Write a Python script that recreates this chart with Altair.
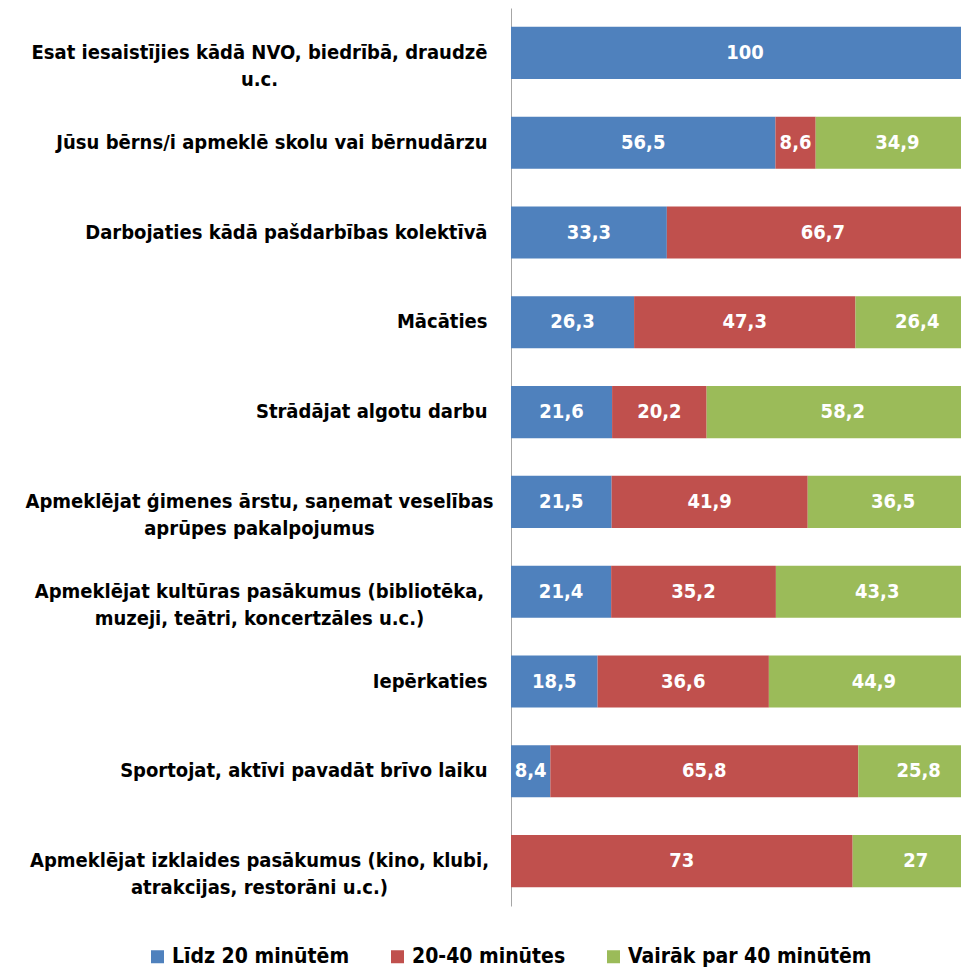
import altair as alt
import pandas as pd

categories = [
    "Esat iesaistījies kādā NVO, biedrībā, draudzē\nu.c.",
    "Jūsu bērns/i apmeklē skolu vai bērnudārzu",
    "Darbojaties kādā pašdarbības kolektīvā",
    "Mācāties",
    "Strādājat algotu darbu",
    "Apmeklējat ģimenes ārstu, saņemat veselības\naprūpes pakalpojumus",
    "Apmeklējat kultūras pasākumus (bibliotēka,\nmuzeji, teātri, koncertzāles u.c.)",
    "Iepērkaties",
    "Sportojat, aktīvi pavadāt brīvo laiku",
    "Apmeklējat izklaides pasākumus (kino, klubi,\natrakcijas, restorāni u.c.)",
]

series_names = ["Līdz 20  minūtēm", "20-40  minūtes", "Vairāk par 40 minūtēm"]
series_colors = ["#4F81BD", "#C0504D", "#9BBB59"]

lidz_20 = [100, 56.5, 33.3, 26.3, 21.6, 21.5, 21.4, 18.5, 8.4, 0]
no_20_40 = [0, 8.6, 66.7, 47.3, 20.2, 41.9, 35.2, 36.6, 65.8, 73]
virs_40 = [0, 34.9, 0, 26.4, 58.2, 36.5, 43.3, 44.9, 25.8, 27]

rows = []
for si, (name, vals) in enumerate(zip(series_names, [lidz_20, no_20_40, virs_40])):
    for cat, v in zip(categories, vals):
        if v > 0:
            rows.append({
                "category": cat,
                "series": name,
                "s_order": si,
                "value": v,
                "label": f"{v:g}".replace(".", ","),
            })
df = pd.DataFrame(rows)

FONT = "Liberation Sans Narrow, DejaVu Sans Condensed, sans-serif"
MULTI = "indexof(datum.label, '\\n') >= 0"

base = alt.Chart(df).transform_stack(
    stack="value",
    groupby=["category"],
    as_=["x0", "x1"],
    sort=[alt.SortField("s_order", order="ascending")],
).transform_calculate(mid="(datum.x0 + datum.x1) / 2")

yenc = alt.Y(
    "category:N",
    sort=categories,
    scale=alt.Scale(paddingInner=0.42, paddingOuter=0.21),
    axis=alt.Axis(
        title=None,
        labelExpr="split(datum.label, '\\n')",
        labelFont=FONT,
        labelFontSize=20,
        labelFontWeight="bold",
        labelColor="black",
        labelPadding={"condition": {"test": MULTI, "value": 252}, "value": 24},
        labelAlign={"condition": {"test": MULTI, "value": "center"}, "value": "right"},
        labelLimit=600,
        labelLineHeight=27,
        labelBaseline="middle",
        ticks=False,
        grid=False,
        domainColor="#A6A6A6",
        domainWidth=1,
    ),
)

xscale = alt.Scale(domain=[0, 96.15], nice=False, zero=False)

bars = base.mark_bar(clip=True).encode(
    y=yenc,
    x=alt.X("x0:Q", scale=xscale, axis=None),
    x2="x1:Q",
    color=alt.Color(
        "series:N",
        scale=alt.Scale(domain=series_names, range=series_colors),
        legend=alt.Legend(
            title=None,
            orient="none",
            legendX=-364,
            legendY=938,
            direction="horizontal",
            columns=3,
            symbolType="square",
            symbolSize=169,
            symbolStrokeWidth=0,
            labelFont=FONT,
            labelFontSize=21,
            labelFontWeight="bold",
            labelColor="black",
            labelLimit=400,
            labelOffset=4,
            columnPadding=31,
            padding=0,
        ),
    ),
    order=alt.Order("s_order:Q"),
)

text = base.mark_text(
    color="white", font=FONT, fontSize=20, fontWeight="bold", baseline="middle"
).encode(
    y=alt.Y("category:N", sort=categories),
    x=alt.X("mid:Q", scale=xscale),
    text="label:N",
)

chart = (
    alt.layer(bars, text)
    .properties(
        width=450,
        height=898,
        autosize=alt.AutoSizeParams(type="none"),
        padding={"left": 503, "top": 0, "right": 0, "bottom": 63},
    )
    .configure_view(stroke=None)
)

chart.save("out.html", embed_options={"renderer": "svg", "actions": False})
